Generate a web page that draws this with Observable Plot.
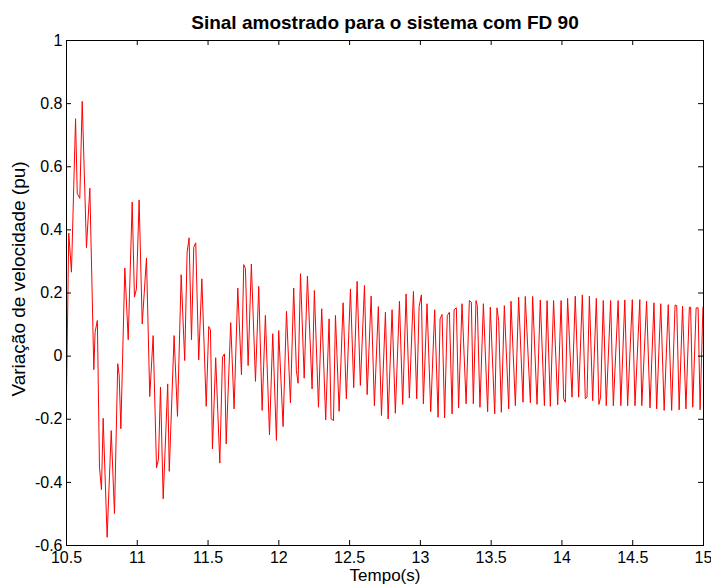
<!DOCTYPE html>
<html>
<head>
<meta charset="utf-8">
<script src="https://cdn.jsdelivr.net/npm/d3@7"></script>
<script src="https://cdn.jsdelivr.net/npm/@observablehq/plot@0.6"></script>
<style>
  html, body { margin: 0; padding: 0; background: #fff; }
</style>
</head>
<body>
<div id="chart"></div>
<script>
const titleText = "Sinal amostrado para o sistema com FD 90";
const xLabelText = "Tempo(s)";
const yLabelText = "Variação de velocidade (pu)";

const xTicks = [10.5, 11, 11.5, 12, 12.5, 13, 13.5, 14, 14.5, 15];
const xTickLabels = ["10.5", "11", "11.5", "12", "12.5", "13", "13.5", "14", "14.5", "15"];
const yTicks = [-0.6, -0.4, -0.2, 0, 0.2, 0.4, 0.6, 0.8, 1];
const yTickLabels = ["-0.6", "-0.4", "-0.2", "0", "0.2", "0.4", "0.6", "0.8", "1"];

const time = [
  10.500, 10.516, 10.535, 10.564, 10.576, 10.594, 10.611, 10.641, 10.665, 10.693,
  10.702, 10.718, 10.733, 10.747, 10.759, 10.787, 10.816, 10.839, 10.862, 10.872,
  10.884, 10.912, 10.936, 10.964, 10.980, 10.994, 11.013, 11.035, 11.065, 11.088,
  11.112, 11.136, 11.150, 11.164, 11.183, 11.215, 11.226, 11.260, 11.284, 11.310,
  11.335, 11.352, 11.366, 11.383, 11.399, 11.413, 11.434, 11.456, 11.487, 11.505,
  11.517, 11.531, 11.554, 11.583, 11.602, 11.616, 11.628, 11.660, 11.684, 11.710,
  11.736, 11.752, 11.764, 11.783, 11.806, 11.835, 11.858, 11.882, 11.905, 11.934,
  11.957, 11.983, 11.999, 12.030, 12.054, 12.082, 12.105, 12.124, 12.136, 12.153,
  12.179, 12.202, 12.235, 12.251, 12.280, 12.303, 12.331, 12.355, 12.369, 12.386,
  12.400, 12.426, 12.454, 12.477, 12.506, 12.529, 12.553, 12.576, 12.605, 12.624,
  12.652, 12.675, 12.703, 12.725, 12.753, 12.772, 12.800, 12.823, 12.852, 12.875,
  12.899, 12.922, 12.951, 12.974, 12.991, 13.007, 13.021, 13.047, 13.073, 13.101,
  13.125, 13.139, 13.153, 13.171, 13.190, 13.205, 13.224, 13.238, 13.254, 13.270,
  13.294, 13.323, 13.346, 13.360, 13.374, 13.393, 13.402, 13.421, 13.445, 13.475,
  13.494, 13.525, 13.541, 13.553, 13.572, 13.593, 13.624, 13.640, 13.671, 13.694,
  13.725, 13.741, 13.777, 13.793, 13.824, 13.847, 13.876, 13.895, 13.918, 13.941,
  13.970, 13.994, 14.012, 14.024, 14.040, 14.071, 14.094, 14.118, 14.144, 14.165,
  14.177, 14.194, 14.217, 14.243, 14.261, 14.273, 14.292, 14.313, 14.344, 14.363,
  14.397, 14.416, 14.444, 14.464, 14.497, 14.516, 14.550, 14.564, 14.598, 14.622,
  14.650, 14.669, 14.698, 14.722, 14.751, 14.775, 14.799, 14.811, 14.828, 14.852,
  14.876, 14.900, 14.909, 14.924, 14.948, 14.962, 14.976, 14.996
];

const value = [
  -0.120, 0.390, 0.266, 0.752, 0.515, 0.500, 0.807, 0.344, 0.532, -0.043,
  0.076, 0.113, -0.352, -0.423, -0.197, -0.574, -0.236, -0.499, -0.024, -0.060,
  -0.230, 0.279, 0.052, 0.488, 0.187, 0.213, 0.495, 0.102, 0.311, -0.128,
  0.065, -0.354, -0.326, -0.098, -0.452, -0.088, -0.365, 0.065, -0.191, 0.258,
  -0.014, 0.329, 0.375, 0.052, 0.345, 0.359, -0.012, 0.245, -0.159, 0.094,
  0.083, -0.294, -0.005, -0.339, -0.003, 0.007, -0.278, 0.106, -0.167, 0.216,
  -0.059, 0.290, 0.278, -0.030, 0.292, -0.080, 0.221, -0.172, 0.129, -0.249,
  0.071, -0.267, 0.081, -0.223, 0.142, -0.148, 0.216, -0.046, -0.086, 0.261,
  -0.070, 0.254, -0.104, 0.208, -0.162, 0.150, -0.202, 0.118, -0.199, -0.204,
  0.129, -0.175, 0.169, -0.135, 0.213, -0.100, 0.237, -0.093, 0.224, -0.122,
  0.190, -0.157, 0.157, -0.188, 0.139, -0.199, 0.147, -0.181, 0.174, -0.153,
  0.197, -0.133, 0.205, -0.135, 0.157, 0.194, -0.151, 0.166, -0.176, 0.147,
  -0.194, 0.118, 0.132, -0.196, 0.129, 0.139, -0.183, 0.147, 0.153, -0.164,
  0.166, -0.151, 0.176, 0.171, -0.151, 0.176, 0.160, -0.162, 0.166, -0.176,
  0.155, -0.183, 0.153, 0.113, -0.178, 0.160, -0.167, 0.174, -0.157, 0.187,
  -0.146, 0.189, -0.148, 0.189, -0.153, 0.178, -0.157, 0.176, -0.159, 0.176,
  -0.154, 0.176, -0.135, -0.146, 0.183, -0.130, 0.190, -0.130, 0.194, -0.135,
  -0.130, 0.190, -0.141, 0.183, -0.153, -0.130, 0.176, -0.157, 0.176, -0.157,
  0.176, -0.157, 0.178, -0.157, 0.179, -0.157, 0.179, -0.157, 0.174, -0.164,
  0.169, -0.167, 0.166, -0.172, 0.163, -0.172, 0.162, 0.160, -0.170, 0.158,
  -0.167, 0.155, 0.155, -0.162, 0.153, 0.153, -0.170, 0.155
];

const data = time.map((t, i) => ({t, v: value[i]}));
const font = "'Liberation Sans', Arial, Helvetica, sans-serif";

const W = 711, H = 584, mL = 66, mR = 8, mT = 40, mB = 39;
const innerW = W - mL - mR, innerH = H - mT - mB, tickLen = 5;

const chart = Plot.plot({
  width: W,
  height: H,
  marginLeft: mL,
  marginRight: mR,
  marginTop: mT,
  marginBottom: mB,
  style: {fontFamily: font, fontSize: "16px", background: "#fff", color: "#000", overflow: "visible"},
  x: {domain: [10.5, 15]},
  y: {domain: [-0.6, 1]},
  marks: [
    Plot.line(data, {x: "t", y: "v", stroke: "#ff0000", strokeWidth: 1, clip: true}),
    // inward tick marks on all four sides (MATLAB box style)
    Plot.tickX(xTicks, {x: d => d, stroke: "#000", insetTop: innerH - tickLen}),
    Plot.tickX(xTicks, {x: d => d, stroke: "#000", insetBottom: innerH - tickLen}),
    Plot.tickY(yTicks, {y: d => d, stroke: "#000", insetRight: innerW - tickLen}),
    Plot.tickY(yTicks, {y: d => d, stroke: "#000", insetLeft: innerW - tickLen}),
    Plot.frame({stroke: "#000", strokeWidth: 1}),
    Plot.axisX(xTicks, {anchor: "bottom", tickSize: 0, tickPadding: 6, tickFormat: d => xTickLabels[xTicks.indexOf(d)], label: null, fontSize: 16}),
    Plot.axisY(yTicks, {anchor: "left", tickSize: 0, tickPadding: 4, tickFormat: d => yTickLabels[yTicks.indexOf(d)], label: null, fontSize: 16}),
    Plot.text([titleText], {frameAnchor: "top", dy: -18, fontWeight: "bold", fontSize: 19, lineAnchor: "middle"}),
    Plot.text([xLabelText], {frameAnchor: "bottom", dy: 30, fontSize: 17, lineAnchor: "middle", textAnchor: "middle"}),
    Plot.text([yLabelText], {frameAnchor: "left", dx: -48, dy: -14, rotate: -90, fontSize: 19, lineAnchor: "middle", textAnchor: "middle"})
  ]
});
document.getElementById("chart").appendChild(chart);
</script>
</body>
</html>
